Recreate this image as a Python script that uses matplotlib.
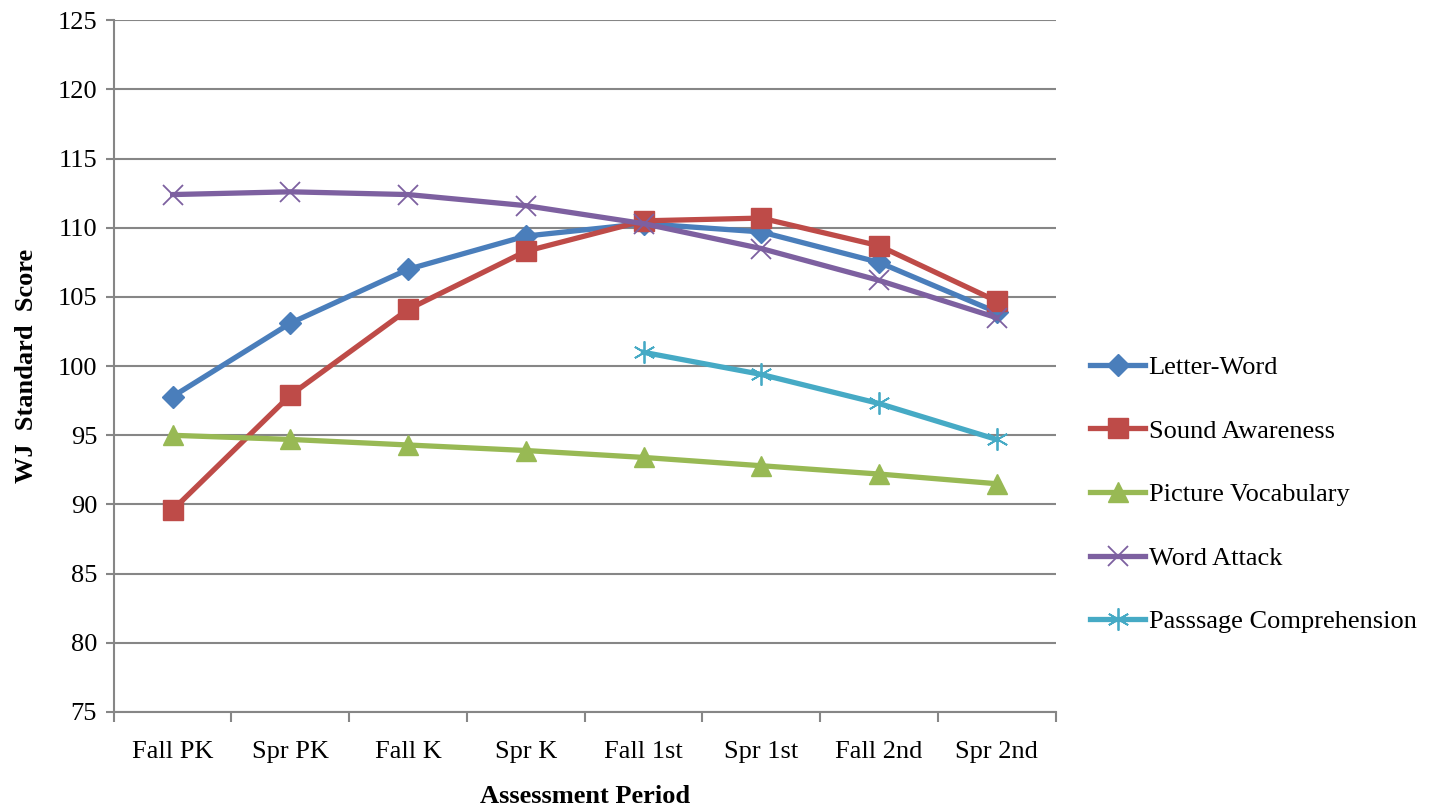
import matplotlib.pyplot as plt
import numpy as np

periods = ['Fall PK', 'Spr PK', 'Fall K', 'Spr K', 'Fall 1st', 'Spr 1st', 'Fall 2nd', 'Spr 2nd']

letter_word = [97.8, 103.1, 107.0, 109.4, 110.3, 109.7, 107.5, 103.9]
sound_awareness = [89.6, 97.9, 104.1, 108.3, 110.5, 110.7, 108.7, 104.7]
picture_vocab = [95.0, 94.7, 94.3, 93.9, 93.4, 92.8, 92.2, 91.5]
word_attack = [112.4, 112.6, 112.4, 111.6, 110.3, 108.5, 106.2, 103.5]
passage_comp = [np.nan, np.nan, np.nan, np.nan, 101.0, 99.4, 97.3, 94.7]

plt.rcParams['font.family'] = ['Liberation Serif', 'DejaVu Serif']

fig = plt.figure(figsize=(14.4, 8.1), dpi=100)
ax = fig.add_axes([0.079, 0.121, 0.654, 0.854])

x = np.arange(len(periods))
lw = 3.8
fs = 19

ax.plot(x, letter_word, color='#4A7EBB', linewidth=lw, marker='D', markersize=11, label='Letter-Word')
ax.plot(x, sound_awareness, color='#BE4B48', linewidth=lw, marker='s', markersize=14, label='Sound Awareness')
ax.plot(x, picture_vocab, color='#98B954', linewidth=lw, marker='^', markersize=14, label='Picture Vocabulary')
ax.plot(x, word_attack, color='#7D60A0', linewidth=lw, marker='x', markersize=15, markeredgewidth=1.3,
        label='Word Attack')
ax.plot(x, passage_comp, color='#46AAC5', linewidth=lw, marker=(6, 2, 0), markersize=16, markeredgewidth=1.3,
        label='Passsage Comprehension')

ax.set_ylim(75, 125)
ax.set_yticks(np.arange(75, 126, 5))
ax.set_xlim(-0.5, len(periods) - 0.5)
ax.set_xticks(x)
ax.set_xticklabels(periods)
ax.set_xticks(np.arange(-0.5, len(periods), 1), minor=True)

ax.grid(axis='y', color='#868686', linewidth=1.5)
ax.set_axisbelow(True)
for s in ['top', 'right']:
    ax.spines[s].set_visible(False)
for s in ['left', 'bottom']:
    ax.spines[s].set_color('#868686')
    ax.spines[s].set_linewidth(1.5)

ax.tick_params(axis='x', which='major', length=0, pad=21, labelsize=fs)
ax.tick_params(axis='x', which='minor', length=7, width=1.5, color='#868686')
ax.tick_params(axis='y', length=6, width=1.5, color='#868686', labelsize=fs, pad=6)

ax.set_xlabel('Assessment Period', fontsize=fs, fontweight='bold', labelpad=16)
ax.set_ylabel('WJ  Standard  Score', fontsize=fs, fontweight='bold', labelpad=14)

fig.legend(loc='upper left', bbox_to_anchor=(0.757, 0.561), frameon=False, fontsize=fs,
           handlelength=2.1, handletextpad=0.12, labelspacing=1.52, borderaxespad=0, borderpad=0)

fig.savefig('out.png', dpi=100)
